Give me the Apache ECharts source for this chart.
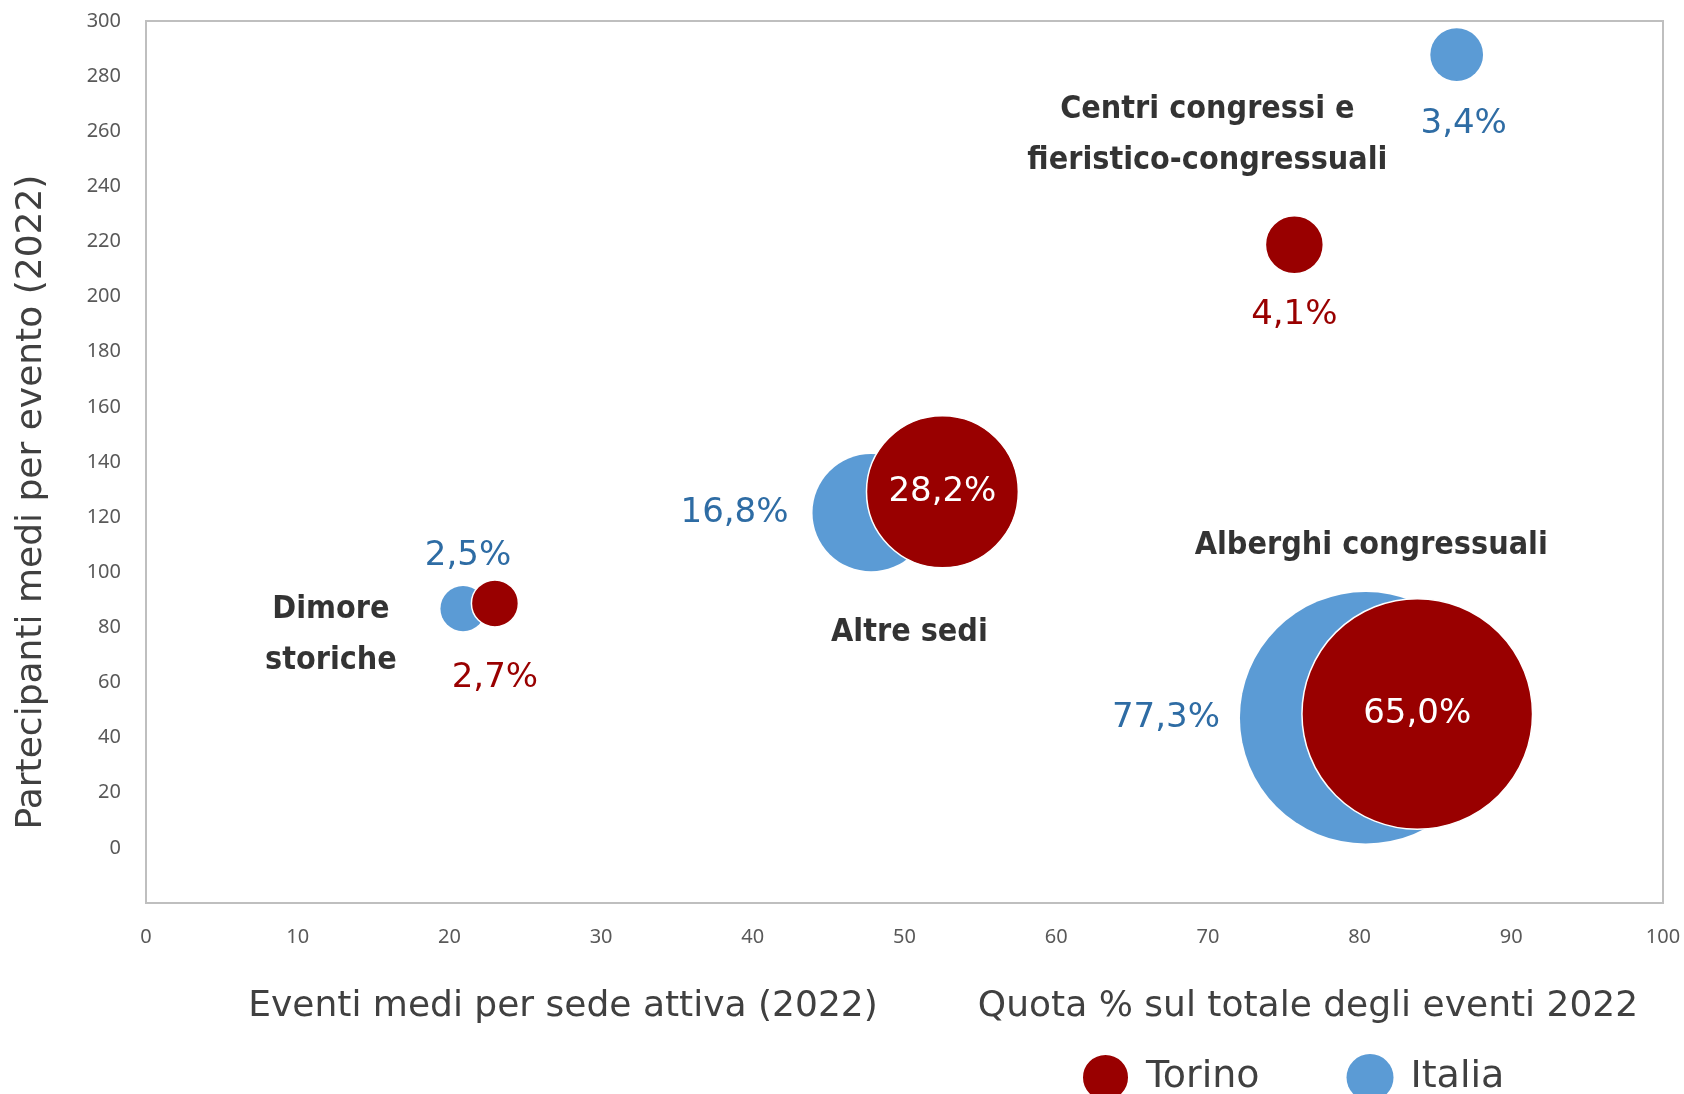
<!DOCTYPE html>
<html>
<head>
<meta charset="utf-8">
<script src="https://cdn.jsdelivr.net/npm/echarts@6/dist/echarts.min.js"></script>
<style>
  html, body { margin: 0; padding: 0; background: #fff; }
  #chart { width: 1684px; height: 1094px; }
</style>
</head>
<body>
<div id="chart"></div>
<script>
// categories (order: Centri, Alberghi, Altre sedi, Dimore)
const categories = ['Centri congressi e\nfieristico-congressuali', 'Alberghi congressuali', 'Altre sedi', 'Dimore\nstoriche']

// eventi medi per sede attiva (x), partecipanti medi per evento (y), quota % (size)
const torinoX = [75.7, 83.8, 52.5, 23.0]
const torinoY = [218.8, 48.6, 129.2, 88.7]
const torinoShare = [4.1, 65.0, 28.2, 2.7]

const italiaX = [86.4, 80.4, 47.8, 20.9]
const italiaY = [287.8, 47.2, 121.6, 86.8]
const italiaShare = [3.4, 77.3, 16.8, 2.5]

const xTicks = { min: 0, max: 100, interval: 10 }
const yTicks = { min: -20, max: 300, interval: 20 }

const fmtPct = v => v.toFixed(1).replace('.', ',') + '%'
const bubble = v => 28.6 * Math.sqrt(v)

// label placement per category
const torinoLabel = [
  { position: 'bottom', distance: 24, color: '#990000' },
  { position: 'inside', color: '#fff' },
  { position: 'inside', color: '#fff' },
  { position: 'bottom', distance: 34, color: '#990000' }
]
const italiaLabel = [
  { position: 'bottom', distance: 26, offset: [7, 0] },
  { position: 'left', distance: 20 },
  { position: 'left', distance: 24 },
  { position: 'top', distance: 13, offset: [5, 0] }
]
const catOffset = [[-87, -110], [-46, -168], [-33, 141], [-164, 32]]

const FONT = 'DejaVu Sans'
const valueFont = { fontFamily: FONT, fontSize: 34 }
const titleFont = { fontFamily: FONT, fontSize: 36, fontWeight: 'normal', color: '#404040' }

const chart = echarts.init(document.getElementById('chart'))
chart.setOption({
  animation: false,
  textStyle: { fontFamily: FONT },
  grid: {
    left: 146, right: 21, top: 21, bottom: 191,
    show: true, borderColor: '#bfbfbf', borderWidth: 2
  },
  title: [
    { text: 'Eventi medi per sede attiva (2022)', left: 558, top: 984, textAlign: 'center', textStyle: titleFont },
    { text: 'Quota % sul totale degli eventi 2022', left: 1303, top: 984, textAlign: 'center', textStyle: titleFont }
  ],
  legend: {
    data: ['Torino', 'Italia'],
    left: 1076, top: 1048,
    icon: 'circle', itemWidth: 47, itemHeight: 47, itemGap: 87,
    textStyle: { fontFamily: FONT, fontSize: 38, color: '#404040', padding: [0, 0, 0, 12] }
  },
  xAxis: {
    type: 'value', ...xTicks,
    splitLine: { show: false },
    axisTick: { show: false },
    axisLine: { onZero: false, lineStyle: { color: '#bfbfbf', width: 2 } },
    axisLabel: { fontFamily: 'Noto Sans', fontSize: 20, color: '#595959', margin: 24 }
  },
  yAxis: {
    type: 'value', ...yTicks,
    name: 'Partecipanti medi per evento (2022)',
    nameLocation: 'middle', nameGap: 96,
    nameTextStyle: { fontFamily: FONT, fontSize: 36, color: '#404040', padding: [0, 80, 0, 0] },
    splitLine: { show: false },
    axisTick: { show: false },
    axisLine: { lineStyle: { color: '#bfbfbf', width: 2 } },
    axisLabel: {
      fontFamily: 'Noto Sans', fontSize: 20, color: '#595959', margin: 25,
      formatter: v => (v < 0 ? '' : v)
    }
  },
  series: [
    {
      name: 'Italia',
      type: 'scatter',
      itemStyle: { color: '#5b9bd5', opacity: 1 },
      data: italiaX.map((x, i) => ({
        value: [x, italiaY[i], italiaShare[i]],
        symbolSize: bubble(italiaShare[i]),
        label: { show: true, ...valueFont, color: '#2e6ca4', ...italiaLabel[i], formatter: fmtPct(italiaShare[i]) }
      }))
    },
    {
      name: 'Torino',
      type: 'scatter',
      itemStyle: { color: '#990000', borderColor: '#fff', borderWidth: 1.5, opacity: 1 },
      data: torinoX.map((x, i) => ({
        value: [x, torinoY[i], torinoShare[i]],
        symbolSize: bubble(torinoShare[i]),
        label: { show: true, ...valueFont, ...torinoLabel[i], formatter: fmtPct(torinoShare[i]) }
      }))
    },
    {
      name: 'categorie',
      type: 'scatter',
      silent: true,
      symbolSize: 0,
      z: 5,
      data: torinoX.map((x, i) => ({
        value: [x, torinoY[i]],
        label: {
          show: true, position: 'inside', offset: catOffset[i],
          formatter: categories[i], align: 'center',
          fontFamily: 'DejaVu Sans Condensed', fontSize: 32, fontWeight: 'bold', color: '#000', lineHeight: 51
        }
      }))
    }
  ]
})
</script>
</body>
</html>
